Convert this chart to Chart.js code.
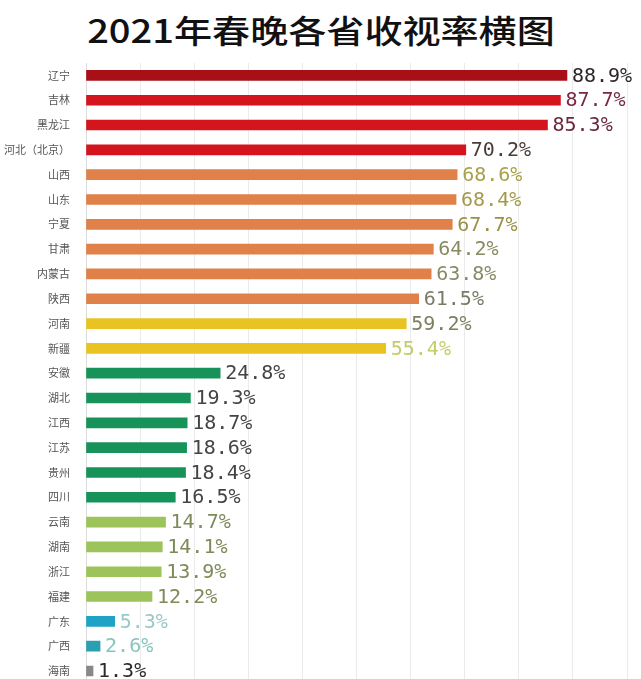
<!DOCTYPE html>
<html>
<head>
<meta charset="utf-8">
<script src="https://cdn.jsdelivr.net/npm/chart.js@4/dist/chart.umd.min.js"></script>
<style>
  html, body { margin: 0; padding: 0; background: #fff; overflow: hidden; }
  #wrap { position: relative; width: 641px; height: 679px; overflow: hidden; }
  #title {
    position: absolute; left: 0; top: 6px; width: 641px; text-align: center;
    font-family: "Noto Sans CJK SC", sans-serif; font-size: 32px; font-weight: 500;
    color: #111; transform: scaleX(1.19); transform-origin: 318px 0; white-space: nowrap;
  }
  #c { position: absolute; left: 0; top: 0; }
</style>
</head>
<body>
<div id="wrap">
  <div id="title">2021年春晚各省收视率横图</div>
  <canvas id="c" width="641" height="698"></canvas>
</div>
<script>
const provinces = ["辽宁", "吉林", "黑龙江", "河北（北京）", "山西", "山东", "宁夏", "甘肃", "内蒙古", "陕西",
  "河南", "新疆", "安徽", "湖北", "江西", "江苏", "贵州", "四川", "云南", "湖南", "浙江", "福建", "广东", "广西", "海南"];
const ratings = [88.9, 87.7, 85.3, 70.2, 68.6, 68.4, 67.7, 64.2, 63.8, 61.5,
  59.2, 55.4, 24.8, 19.3, 18.7, 18.6, 18.4, 16.5, 14.7, 14.1, 13.9, 12.2, 5.3, 2.6, 1.3];
const barColors = ["#a80f16", "#d4151e", "#d4151e", "#d4151e", "#df8148", "#df8148", "#df8148", "#df8148", "#df8148", "#df8148",
  "#e8c322", "#e8c322", "#17935a", "#17935a", "#17935a", "#17935a", "#17935a", "#17935a",
  "#9cc45a", "#9cc45a", "#9cc45a", "#9cc45a", "#1fa3c4", "#2a9fb2", "#888888"];
const labelColors = ["#2e2626", "#7a2a40", "#6a2a3e", "#4a3a3a", "#a9a048", "#a59a4a", "#9a9048", "#8a8a60", "#8a8a66", "#7a7a66",
  "#7e7e5e", "#c4cc6a", "#444444", "#444444", "#444444", "#444444", "#444444", "#444444",
  "#7e8a58", "#7e8a58", "#7e8a58", "#7e8a58", "#9cc8c8", "#86c6be", "#2a2a2a"];

const valueLabels = {
  id: "valueLabels",
  afterDatasetsDraw(chart) {
    const ctx = chart.ctx;
    const meta = chart.getDatasetMeta(0);
    ctx.save();
    ctx.font = "20px 'DejaVu Sans Mono', monospace";
    ctx.textBaseline = "middle";
    ctx.textAlign = "left";
    meta.data.forEach((bar, i) => {
      ctx.fillStyle = labelColors[i];
      ctx.fillText(ratings[i].toFixed(1) + "%", bar.x + 5, bar.y + 1);
    });
    ctx.restore();
  },
};

new Chart(document.getElementById("c"), {
  type: "bar",
  data: {
    labels: provinces,
    datasets: [{
      data: ratings,
      backgroundColor: barColors,
      barThickness: 10,
      borderWidth: 0,
    }],
  },
  options: {
    indexAxis: "y",
    responsive: false,
    animation: false,
    layout: { padding: { top: 63, right: 14, bottom: 0, left: 0 } },
    plugins: {
      legend: { display: false },
      tooltip: { enabled: false },
    },
    scales: {
      x: {
        min: 0,
        max: 100,
        afterFit: (scale) => { scale.height = 0; },
        ticks: { display: false, stepSize: 10 },
        grid: { color: "#ebebeb", drawTicks: false },
        border: { display: false },
      },
      y: {
        afterFit: (scale) => { scale.width = 86; },
        ticks: {
          color: "#555",
          padding: 8,
          font: { family: "'Noto Sans CJK SC', sans-serif", size: 11 },
        },
        grid: { display: false },
        border: { color: "#dcdcdc" },
      },
    },
  },
  plugins: [valueLabels],
});
</script>
</body>
</html>
